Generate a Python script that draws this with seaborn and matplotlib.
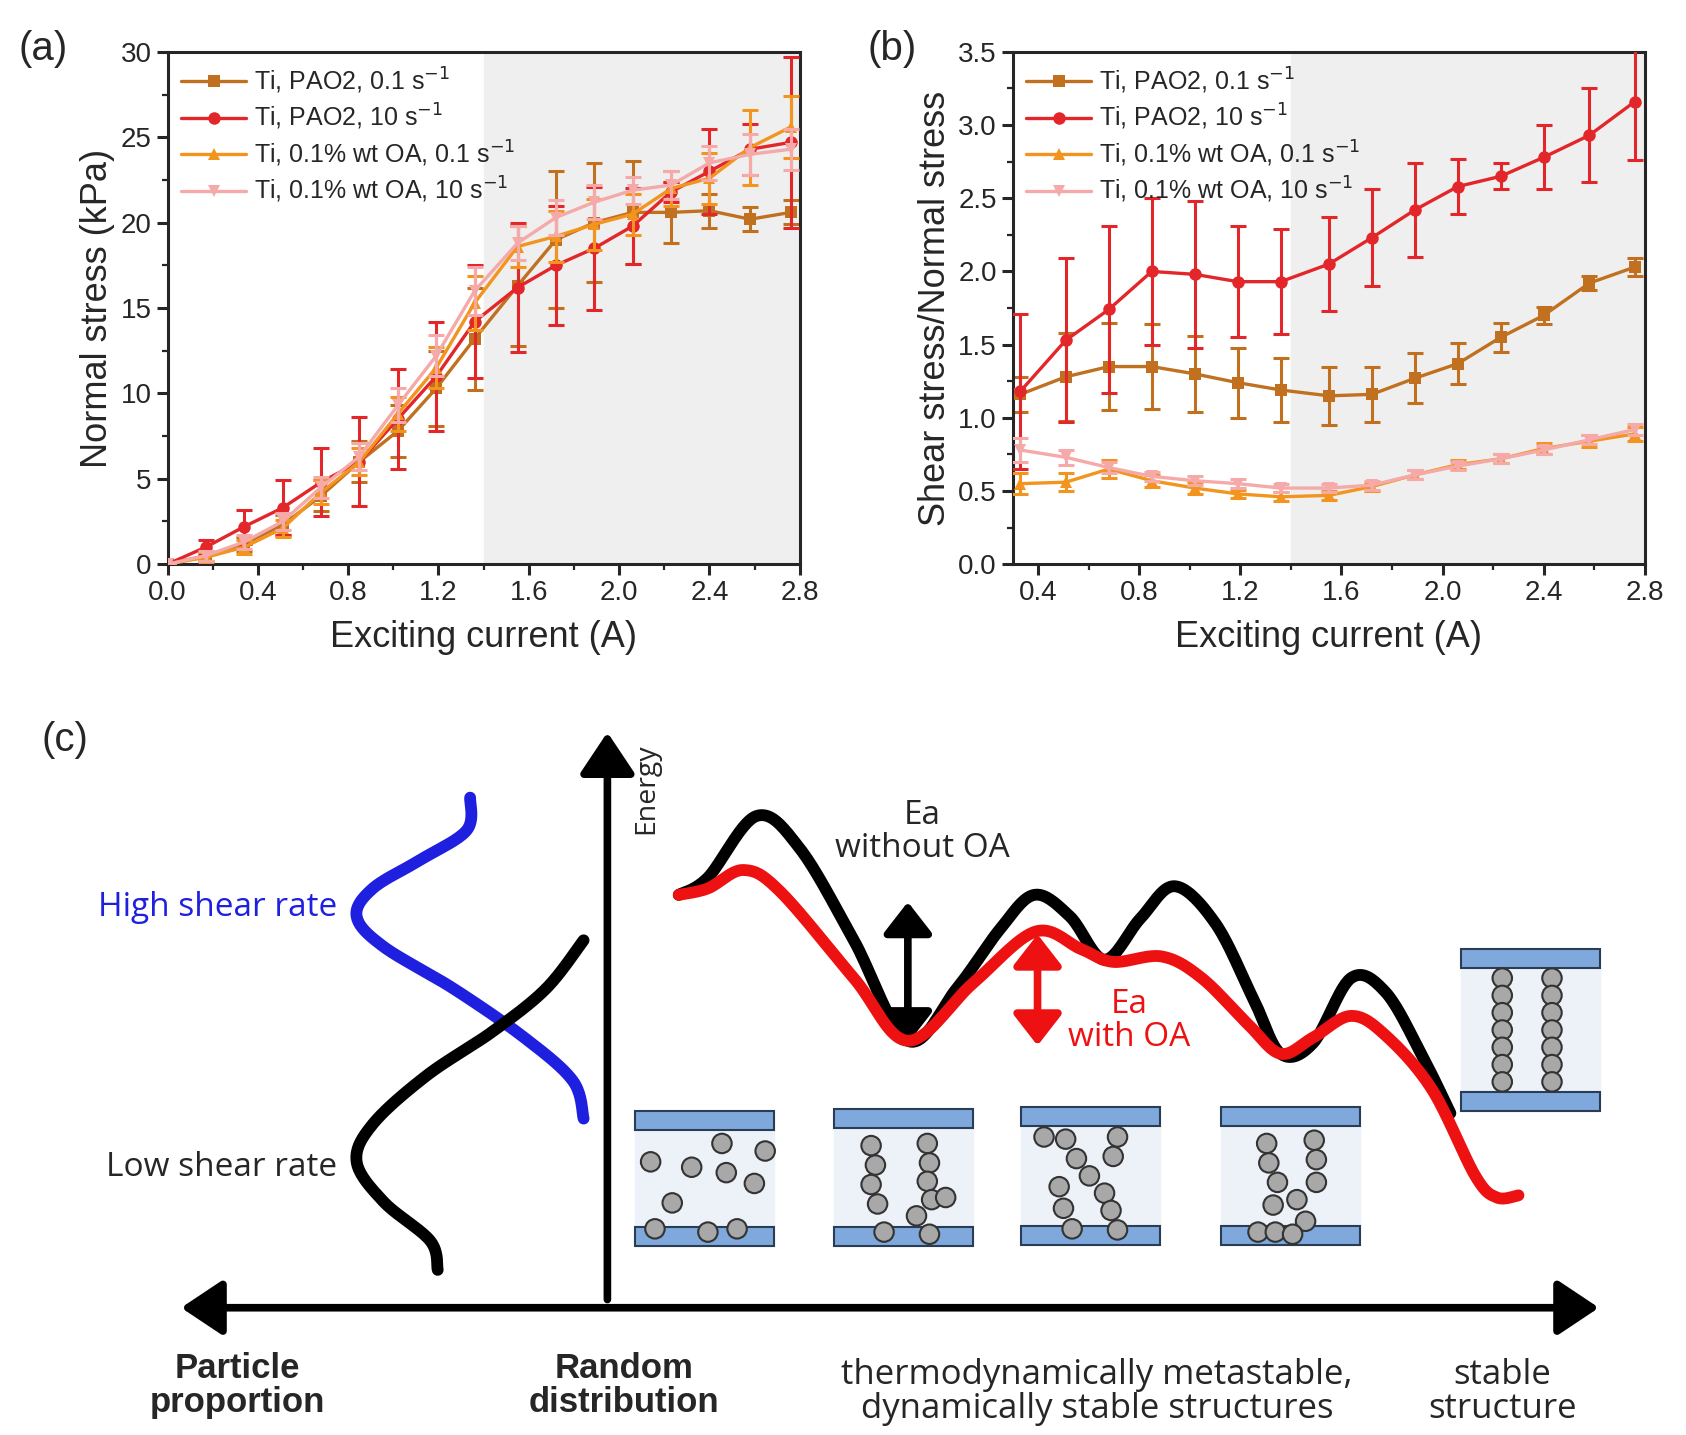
import matplotlib
matplotlib.use("Agg")
import matplotlib.pyplot as plt
from matplotlib.patches import Circle, Rectangle, FancyArrowPatch
from matplotlib.ticker import AutoMinorLocator
import numpy as np
import pandas as pd
import seaborn as sns

sns.set_style("ticks")
plt.rcParams['font.family'] = ['Liberation Sans', 'DejaVu Sans']

K = 1686 / 1560  # scale from the layout grid used below to output pixels
W, H = 1560, 1435 / K

# ---------------- data (a) ----------------
current_a = [0, 0.17, 0.34, 0.51, 0.68, 0.85, 1.02, 1.19, 1.36, 1.55, 1.72, 1.89, 2.06, 2.23, 2.40, 2.58, 2.76]
pao_01 = [0, 0.5, 1.2, 2.3, 4.0, 6.0, 7.8, 10.3, 13.2, 16.3, 19.0, 20.0, 20.6, 20.6, 20.7, 20.2, 20.6]
pao_01_err = [0, 0.3, 0.4, 0.6, 0.9, 1.2, 1.5, 2.2, 3.0, 3.5, 4.0, 3.5, 3.0, 1.8, 1.0, 0.7, 0.7]
pao_10 = [0, 1.0, 2.2, 3.3, 4.8, 6.0, 8.5, 11.0, 14.2, 16.2, 17.5, 18.5, 19.8, 21.8, 23.0, 24.3, 24.7]
pao_10_err = [0, 0.4, 1.0, 1.6, 2.0, 2.6, 2.9, 3.2, 3.3, 3.8, 3.5, 3.6, 2.2, 0.6, 2.5, 1.5, 5.0]
oa_01 = [0, 0.4, 1.0, 2.1, 4.2, 6.0, 8.8, 11.5, 15.3, 18.6, 19.2, 19.9, 20.5, 22.0, 22.6, 24.4, 25.6]
oa_01_err = [0, 0.3, 0.4, 0.5, 0.7, 0.8, 1.0, 1.2, 1.6, 1.2, 1.5, 1.5, 1.2, 1.0, 1.5, 2.2, 1.8]
oa_10 = [0, 0.5, 1.3, 2.5, 4.5, 6.3, 9.3, 12.2, 16.0, 18.8, 20.3, 21.2, 21.9, 22.2, 23.5, 24.0, 24.3]
oa_10_err = [0, 0.3, 0.4, 0.5, 0.6, 0.8, 1.0, 1.2, 1.4, 1.0, 1.0, 1.0, 0.8, 0.8, 1.0, 1.2, 1.2]

# ---------------- data (b) ----------------
current_b = [0.33, 0.51, 0.68, 0.85, 1.02, 1.19, 1.36, 1.55, 1.72, 1.89, 2.06, 2.23, 2.40, 2.58, 2.76]
r_pao_01 = [1.16, 1.28, 1.35, 1.35, 1.30, 1.24, 1.19, 1.15, 1.16, 1.27, 1.37, 1.55, 1.70, 1.92, 2.03]
r_pao_01_err = [0.12, 0.30, 0.30, 0.29, 0.26, 0.24, 0.22, 0.20, 0.19, 0.17, 0.14, 0.10, 0.06, 0.05, 0.06]
r_pao_10 = [1.18, 1.53, 1.74, 2.00, 1.98, 1.93, 1.93, 2.05, 2.23, 2.42, 2.58, 2.65, 2.78, 2.93, 3.16]
r_pao_10_err = [0.53, 0.56, 0.57, 0.50, 0.50, 0.38, 0.36, 0.32, 0.33, 0.32, 0.19, 0.09, 0.22, 0.32, 0.40]
r_oa_01 = [0.55, 0.56, 0.65, 0.57, 0.52, 0.48, 0.46, 0.47, 0.53, 0.61, 0.68, 0.72, 0.79, 0.84, 0.89]
r_oa_01_err = [0.07, 0.06, 0.06, 0.04, 0.04, 0.03, 0.03, 0.03, 0.03, 0.03, 0.03, 0.03, 0.04, 0.04, 0.05]
r_oa_10 = [0.78, 0.73, 0.66, 0.60, 0.57, 0.55, 0.52, 0.52, 0.54, 0.61, 0.67, 0.72, 0.78, 0.85, 0.92]
r_oa_10_err = [0.08, 0.05, 0.04, 0.03, 0.03, 0.03, 0.03, 0.03, 0.03, 0.03, 0.03, 0.03, 0.03, 0.03, 0.04]

labels = ["Ti, PAO2, 0.1 s$^{-1}$", "Ti, PAO2, 10 s$^{-1}$",
          "Ti, 0.1% wt OA, 0.1 s$^{-1}$", "Ti, 0.1% wt OA, 10 s$^{-1}$"]
colors = ["#c0701e", "#e3262a", "#f3941f", "#f5a9a9"]
markers = ["s", "o", "^", "v"]

fig = plt.figure(figsize=(16.86, 14.35), dpi=100)


def draw_panel(ax, x, series, errs, xlim, ylim, xticks, yticks, ylabel):
    ax.axvspan(1.4, xlim[1], color="#efefef", zorder=0)
    for i, (y, e) in enumerate(zip(series, errs)):
        df = pd.DataFrame({"x": x, "y": y})
        ax.errorbar(x, y, yerr=e, fmt="none", ecolor=colors[i], elinewidth=2.2,
                    capsize=5.5, capthick=2.2, zorder=2 + i)
        sns.lineplot(data=df, x="x", y="y", ax=ax, color=colors[i], marker=markers[i],
                     markersize=9, markeredgewidth=0, linewidth=2.4, label=labels[i],
                     zorder=3 + i)
    ax.set_xlim(*xlim)
    ax.set_ylim(*ylim)
    ax.set_xticks(xticks)
    ax.set_yticks(yticks)
    ax.set_xlabel("Exciting current (A)", fontsize=26, labelpad=10)
    ax.set_ylabel(ylabel, fontsize=26)
    ax.tick_params(labelsize=20, width=2.2, length=8, direction="out")
    ax.xaxis.set_minor_locator(AutoMinorLocator(2))
    ax.yaxis.set_minor_locator(AutoMinorLocator(2))
    ax.tick_params(which="minor", width=1.6, length=4.5)
    for s in ax.spines.values():
        s.set_linewidth(2.2)
        s.set_visible(True)
    ax.legend(loc="upper left", frameon=False, fontsize=18, handlelength=2.6,
              borderaxespad=0.15, labelspacing=0.25, handletextpad=0.3)


ax_a = fig.add_axes([155 / W, 1 - 522 / H, 585 / W, 474 / H])
draw_panel(ax_a, current_a, [pao_01, pao_10, oa_01, oa_10],
           [pao_01_err, pao_10_err, oa_01_err, oa_10_err],
           (0, 2.8), (0, 30), [0.0, 0.4, 0.8, 1.2, 1.6, 2.0, 2.4, 2.8],
           [0, 5, 10, 15, 20, 25, 30], "Normal stress (kPa)")
ax_a.set_xticklabels(["0.0", "0.4", "0.8", "1.2", "1.6", "2.0", "2.4", "2.8"])

ax_b = fig.add_axes([937 / W, 1 - 522 / H, 585 / W, 474 / H])
draw_panel(ax_b, current_b, [r_pao_01, r_pao_10, r_oa_01, r_oa_10],
           [r_pao_01_err, r_pao_10_err, r_oa_01_err, r_oa_10_err],
           (0.3, 2.8), (0, 3.5), [0.4, 0.8, 1.2, 1.6, 2.0, 2.4, 2.8],
           [0, 0.5, 1.0, 1.5, 2.0, 2.5, 3.0, 3.5], "Shear stress/Normal stress")
ax_b.set_yticklabels(["0.0", "0.5", "1.0", "1.5", "2.0", "2.5", "3.0", "3.5"])

fig.text(40 / W, 1 - 45 / H, "(a)", fontsize=29, ha="center", va="center")
fig.text(825 / W, 1 - 45 / H, "(b)", fontsize=29, ha="center", va="center")

# ---------------- schematic (c), layout-grid coordinates ----------------
top_c = 640
ax_c = fig.add_axes([0, 0, 1, (H - top_c) / H])
ax_c.set_xlim(0, W)
ax_c.set_ylim(H, top_c)
ax_c.set_aspect("equal")
ax_c.axis("off")

blue_curve = [(435, 738), (432, 768), (390, 795), (345, 822), (330, 848), (355, 876),
              (420, 915), (485, 960), (530, 1000), (540, 1035)]
black_left = [(405, 1175), (398, 1148), (355, 1112), (330, 1075), (345, 1040), (395, 995),
              (455, 955), (505, 915), (540, 870)]
energy_black = [(628, 828), (655, 812), (700, 755), (740, 785), (790, 870), (840, 963),
                (885, 915), (925, 860), (957, 828), (990, 848), (1022, 888), (1055, 850),
                (1087, 820), (1125, 855), (1160, 925), (1185, 975), (1215, 965), (1250, 905),
                (1282, 918), (1315, 975), (1342, 1030)]
energy_red = [(628, 828), (655, 822), (688, 805), (722, 825), (790, 905), (840, 963),
              (900, 910), (958, 862), (1000, 878), (1030, 890), (1075, 885), (1112, 905),
              (1155, 948), (1185, 975), (1215, 960), (1250, 940), (1282, 958), (1325, 1008),
              (1365, 1088), (1385, 1108), (1405, 1106)]


def smooth(pts, n=20):
    p = np.array(pts, dtype=float)
    p = np.vstack([p[0], p, p[-1]])
    out = []
    for i in range(1, len(p) - 2):
        p0, p1, p2, p3 = p[i - 1], p[i], p[i + 1], p[i + 2]
        for t in np.linspace(0, 1, n, endpoint=False):
            out.append(0.5 * ((2 * p1) + (-p0 + p2) * t + (2 * p0 - 5 * p1 + 4 * p2 - p3) * t ** 2
                              + (-p0 + 3 * p1 - 3 * p2 + p3) * t ** 3))
    out.append(p[-2])
    return np.array(out)


for pts, col in [(blue_curve, "#1f1fe0"), (black_left, "black"),
                 (energy_black, "black"), (energy_red, "#ee1111")]:
    s = smooth(pts)
    ax_c.plot(s[:, 0], s[:, 1], color=col, lw=8.5, solid_capstyle="round")

# axes arrows
ax_c.add_patch(FancyArrowPatch((562, 1205), (562, 675), arrowstyle="-|>,head_length=1.2,head_width=0.8",
                               mutation_scale=21, lw=5.5, color="black"))
ax_c.add_patch(FancyArrowPatch((165, 1210), (1482, 1210), arrowstyle="<|-|>,head_length=1.2,head_width=0.8",
                               mutation_scale=21, lw=5.5, color="black"))
ax_c.add_patch(FancyArrowPatch((840, 832), (840, 968), arrowstyle="<|-|>,head_length=0.9,head_width=0.7",
                               mutation_scale=21, lw=5.5, color="black"))
ax_c.add_patch(FancyArrowPatch((960, 862), (960, 970), arrowstyle="<|-|>,head_length=0.9,head_width=0.7",
                               mutation_scale=21, lw=5.5, color="#ee1111"))

# structure boxes
boxes = [(588, 1028, 128, 125), (772, 1026, 128, 127), (945, 1024, 128, 128),
         (1130, 1024, 128, 128), (1352, 878, 128, 150)]
particles = [
    [(602, 1075), (640, 1080), (668, 1058), (708, 1065), (672, 1085), (698, 1095),
     (622, 1113), (606, 1137), (655, 1140), (682, 1137)],
    [(806, 1060), (810, 1078), (806, 1096), (812, 1114), (818, 1140), (858, 1058),
     (860, 1076), (858, 1093), (862, 1110), (875, 1108), (848, 1125), (860, 1142)],
    [(966, 1052), (986, 1054), (1034, 1052), (1030, 1070), (996, 1072), (1008, 1088),
     (1022, 1104), (980, 1098), (984, 1118), (1028, 1120), (992, 1137), (1034, 1138)],
    [(1172, 1058), (1216, 1055), (1174, 1076), (1218, 1073), (1182, 1094), (1218, 1094),
     (1200, 1110), (1178, 1115), (1164, 1140), (1180, 1140), (1208, 1130), (1196, 1142)],
    [(1390, 905 + 16 * k) for k in range(7)] + [(1436, 905 + 16 * k) for k in range(7)],
]
for (bx, by, bw, bh), parts in zip(boxes, particles):
    ax_c.add_patch(Rectangle((bx, by), bw, bh, color="#edf1f8", zorder=1))
    ax_c.add_patch(Rectangle((bx, by), bw, 18, fc="#7fa9dc", ec="#2b3d55", lw=1.5, zorder=2))
    ax_c.add_patch(Rectangle((bx, by + bh - 18), bw, 18, fc="#7fa9dc", ec="#2b3d55", lw=1.5, zorder=2))
    for (px, py) in parts:
        ax_c.add_patch(Circle((px, py), 9, fc="#a8a8a8", ec="#333333", lw=1.5, zorder=3))

cf = ["Open Sans", "DejaVu Sans"]
ax_c.text(598, 730, "Energy", rotation=90, fontsize=20.5, ha="center", va="center", family=cf)
ax_c.text(853, 770, "Ea\nwithout OA", fontsize=24, ha="center", va="center", family=cf, linespacing=1.0)
ax_c.text(1045, 945, "Ea\nwith OA", fontsize=24, ha="center", va="center", color="#ee1111",
          family=cf, linespacing=1.0)
ax_c.text(312, 840, "High shear rate", fontsize=24, ha="right", va="center", color="#1f1fe0", family=cf)
ax_c.text(312, 1080, "Low shear rate", fontsize=24, ha="right", va="center", family=cf)
ax_c.text(220, 1282, "Particle\nproportion", fontsize=25, ha="center", va="center",
          fontweight="bold", linespacing=1.05)
ax_c.text(577, 1282, "Random\ndistribution", fontsize=25, ha="center", va="center",
          fontweight="bold", linespacing=1.05)
ax_c.text(1015, 1288, "thermodynamically metastable,\ndynamically stable structures", fontsize=25,
          ha="center", va="center", family=cf, linespacing=1.0)
ax_c.text(1390, 1288, "stable\nstructure", fontsize=25, ha="center", va="center", family=cf, linespacing=1.0)
ax_c.text(60, 685, "(c)", fontsize=29, ha="center", va="center")

fig.savefig("out.png", dpi=100)
